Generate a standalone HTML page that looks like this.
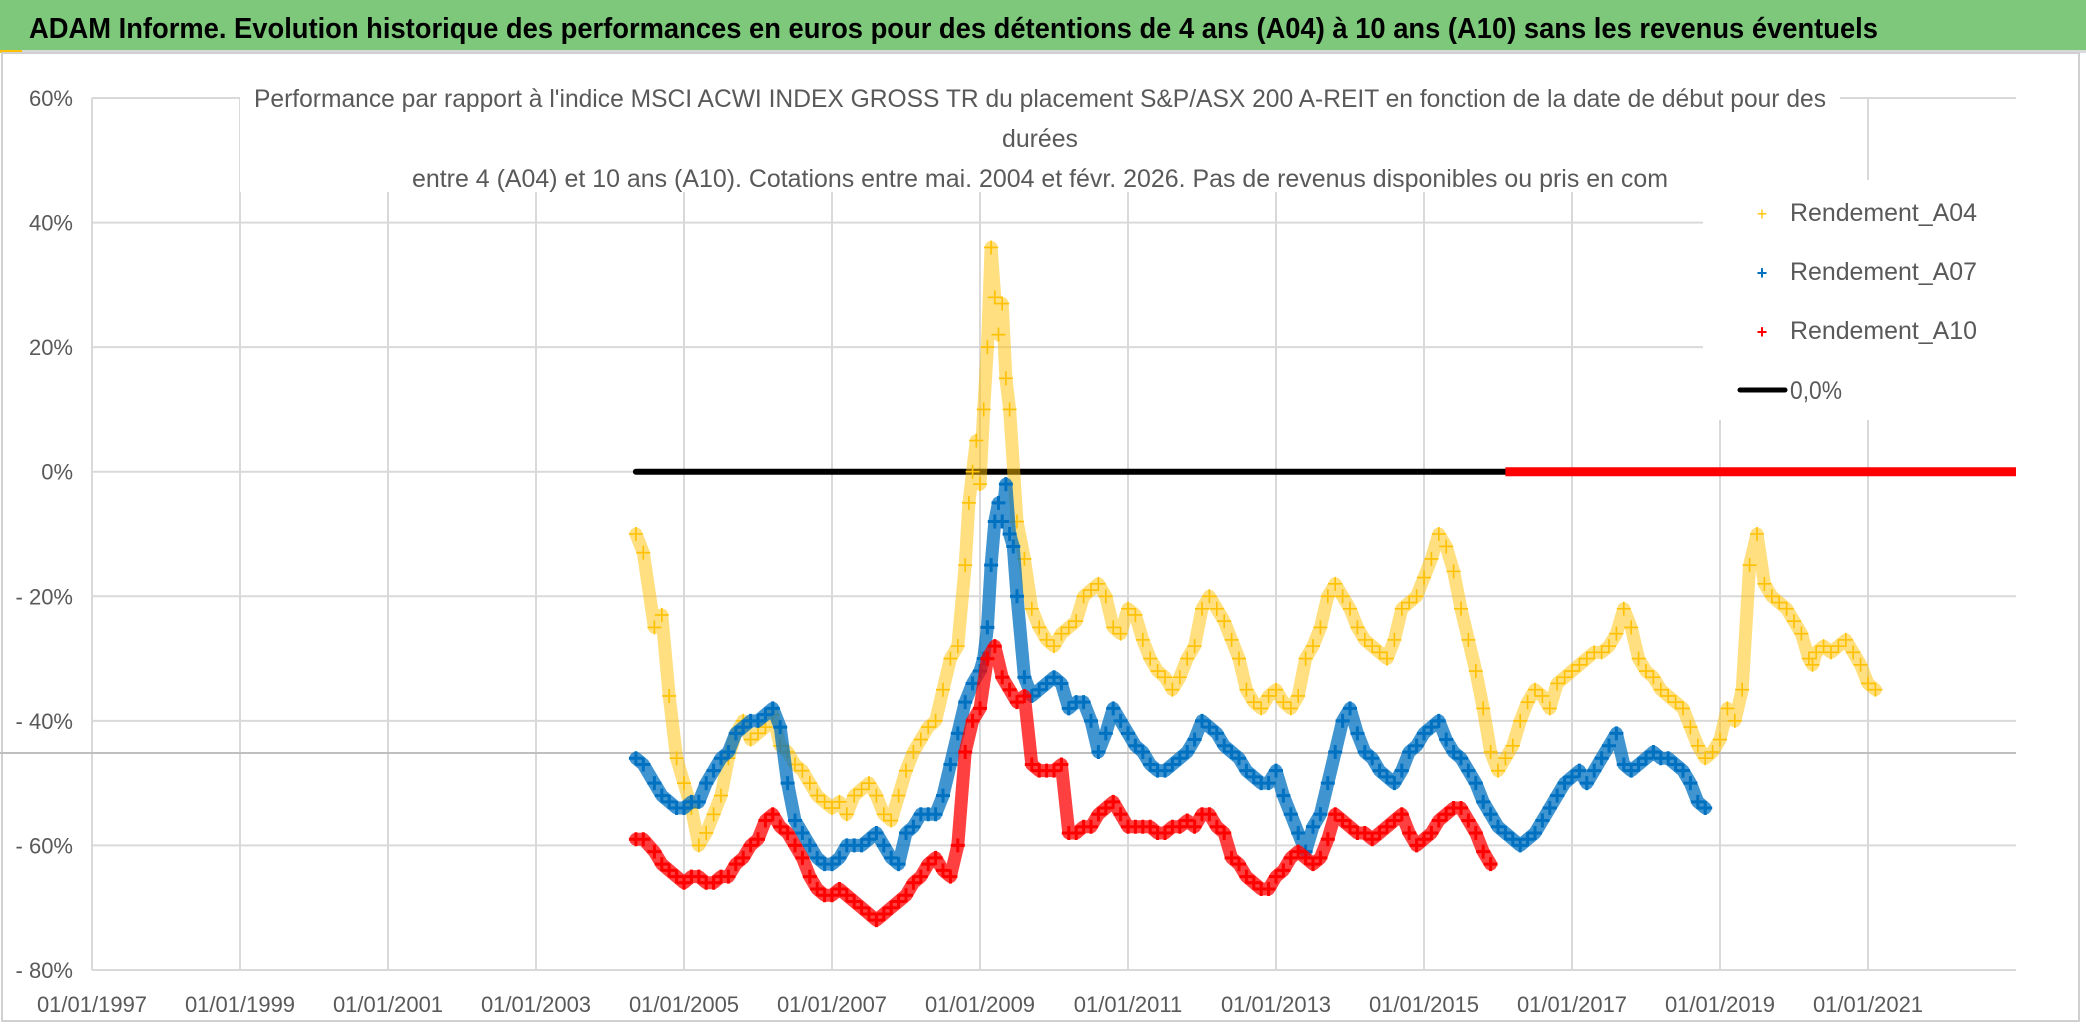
<!DOCTYPE html>
<html><head><meta charset="utf-8"><style>
html,body{margin:0;padding:0;background:#fff;}
svg{display:block;font-family:"Liberation Sans",sans-serif;}
</style></head><body>
<svg id="chart" width="2086" height="1031" viewBox="0 0 2086 1031">
<rect x="0" y="0" width="2086" height="1031" fill="#fff"/>
<rect x="0" y="0" width="2086" height="50" fill="#7dc87b"/>
<rect x="0" y="50" width="2086" height="3" fill="#d9d9d9"/>
<rect x="0" y="50" width="22" height="3" fill="#ffc000"/>
<text x="29" y="38" font-size="29" font-weight="bold" fill="#000" textLength="1849" lengthAdjust="spacingAndGlyphs">ADAM Informe. Evolution historique des performances en euros pour des détentions de 4 ans (A04) à 10 ans (A10) sans les revenus éventuels</text>
<rect x="2" y="53" width="2077" height="968" fill="none" stroke="#d0d0d0" stroke-width="2"/>
<g id="grid"></g>
<g id="yaxis"></g>
<g id="xaxis"></g>
<line x1="0" y1="753" x2="2016" y2="753" stroke="#bfbfbf" stroke-width="2"/>
<rect x="240" y="82" width="1600" height="110" fill="#fff"/>
<g fill="#595959" font-size="25" text-anchor="middle">
<text x="1040" y="107" textLength="1572" lengthAdjust="spacingAndGlyphs">Performance par rapport à l'indice MSCI ACWI INDEX GROSS TR  du placement S&amp;P/ASX 200 A-REIT en fonction de la date de début pour des</text>
<text x="1040" y="147" textLength="76" lengthAdjust="spacingAndGlyphs">durées</text>
<text x="1040" y="187" textLength="1256" lengthAdjust="spacingAndGlyphs">entre 4 (A04) et 10 ans (A10). Cotations entre mai. 2004 et févr. 2026. Pas de revenus disponibles ou pris en com</text>
</g>
<g id="series"></g>
<rect x="1703" y="180" width="313" height="240" fill="#fff"/>
<g font-size="25" fill="#595959">
<g><text x="1762" y="220" fill="#ffc000" font-size="18" text-anchor="middle">+</text><text x="1790" y="221" textLength="187" lengthAdjust="spacingAndGlyphs">Rendement_A04</text></g>
<g><text x="1762" y="279" fill="#0070c0" font-size="18" font-weight="bold" text-anchor="middle">+</text><text x="1790" y="280" textLength="187" lengthAdjust="spacingAndGlyphs">Rendement_A07</text></g>
<g><text x="1762" y="338" fill="#ff0000" font-size="18" font-weight="bold" text-anchor="middle">+</text><text x="1790" y="339" textLength="187" lengthAdjust="spacingAndGlyphs">Rendement_A10</text></g>
<g><line x1="1740" y1="390" x2="1785" y2="390" stroke="#000" stroke-width="5" stroke-linecap="round"/><text x="1790" y="399" textLength="52" lengthAdjust="spacingAndGlyphs">0,0%</text></g>
</g>
</svg>
<script>
const yTicks=[60,40,20,0,-20,-40,-60,-80];
const yTickLabels=["60%","40%","20%","0%","- 20%","- 40%","- 60%","- 80%"];
const xTicks=[1997,1999,2001,2003,2005,2007,2009,2011,2013,2015,2017,2019,2021];
const xTickLabels=["01/01/1997","01/01/1999","01/01/2001","01/01/2003","01/01/2005","01/01/2007","01/01/2009","01/01/2011","01/01/2013","01/01/2015","01/01/2017","01/01/2019","01/01/2021"];
const a04Dates=[2004.35,2004.45,2004.6,2004.7,2004.8,2004.9,2005.0,2005.1,2005.2,2005.3,2005.4,2005.5,2005.6,2005.7,2005.8,2005.9,2006.0,2006.1,2006.2,2006.3,2006.4,2006.5,2006.6,2006.7,2006.8,2006.9,2007.0,2007.1,2007.2,2007.3,2007.4,2007.5,2007.6,2007.7,2007.8,2007.9,2008.0,2008.1,2008.2,2008.3,2008.4,2008.5,2008.6,2008.7,2008.8,2008.85,2008.9,2008.95,2009.0,2009.05,2009.1,2009.15,2009.2,2009.25,2009.3,2009.35,2009.4,2009.5,2009.6,2009.7,2009.8,2009.9,2010.0,2010.1,2010.2,2010.3,2010.4,2010.5,2010.6,2010.7,2010.8,2010.9,2011.0,2011.1,2011.2,2011.3,2011.4,2011.5,2011.6,2011.7,2011.8,2011.9,2012.0,2012.1,2012.2,2012.3,2012.4,2012.5,2012.6,2012.7,2012.8,2012.9,2013.0,2013.1,2013.2,2013.3,2013.4,2013.5,2013.6,2013.7,2013.8,2013.9,2014.0,2014.1,2014.2,2014.3,2014.4,2014.5,2014.6,2014.7,2014.8,2014.9,2015.0,2015.1,2015.2,2015.3,2015.4,2015.5,2015.6,2015.7,2015.8,2015.9,2016.0,2016.1,2016.2,2016.3,2016.4,2016.5,2016.6,2016.7,2016.8,2016.9,2017.0,2017.1,2017.2,2017.3,2017.4,2017.5,2017.6,2017.7,2017.8,2017.9,2018.0,2018.1,2018.2,2018.3,2018.4,2018.5,2018.6,2018.7,2018.8,2018.9,2019.0,2019.1,2019.2,2019.3,2019.4,2019.5,2019.6,2019.7,2019.8,2019.9,2020.0,2020.1,2020.2,2020.25,2020.3,2020.4,2020.5,2020.6,2020.7,2020.8,2020.9,2021.0,2021.1,2021.2,2021.3,2021.4,2021.5,2021.6,2021.7,2021.8,2021.9,2022.0,2022.1];
const a04Values=[-10,-13,-25,-23,-36,-46,-50,-54,-60,-58,-55,-52,-46,-42,-40,-43,-42,-41,-39,-44,-45,-47,-48,-50,-52,-53,-54,-53,-55,-52,-51,-50,-52,-55,-56,-52,-48,-45,-43,-41,-40,-35,-30,-28,-15,-5,0,5,-2,10,20,36,28,22,27,15,10,-8,-14,-22,-25,-27,-28,-26,-25,-24,-20,-19,-18,-20,-25,-26,-22,-23,-27,-30,-32,-33,-35,-33,-30,-28,-22,-20,-22,-24,-27,-30,-35,-37,-38,-36,-35,-37,-38,-36,-30,-28,-25,-20,-18,-20,-22,-25,-27,-28,-29,-30,-27,-22,-21,-20,-17,-14,-10,-12,-16,-22,-27,-32,-38,-45,-48,-46,-44,-40,-37,-35,-36,-38,-34,-33,-32,-31,-30,-29,-29,-28,-26,-22,-25,-30,-32,-33,-35,-36,-37,-38,-41,-44,-46,-45,-43,-38,-40,-35,-15,-10,-18,-20,-21,-22,-24,-26,-30,-31,-29,-28,-29,-28,-27,-29,-31,-34,-35];
const a07Dates=[2004.35,2004.45,2004.6,2004.7,2004.8,2004.9,2005.0,2005.1,2005.2,2005.3,2005.4,2005.5,2005.6,2005.7,2005.8,2005.9,2006.0,2006.1,2006.2,2006.3,2006.4,2006.5,2006.6,2006.7,2006.8,2006.9,2007.0,2007.1,2007.2,2007.3,2007.4,2007.5,2007.6,2007.7,2007.8,2007.9,2008.0,2008.1,2008.2,2008.3,2008.4,2008.5,2008.6,2008.7,2008.8,2008.9,2009.0,2009.05,2009.1,2009.15,2009.2,2009.25,2009.3,2009.35,2009.4,2009.45,2009.5,2009.6,2009.7,2009.8,2009.9,2010.0,2010.1,2010.2,2010.3,2010.4,2010.5,2010.6,2010.7,2010.8,2010.9,2011.0,2011.1,2011.2,2011.3,2011.4,2011.5,2011.6,2011.7,2011.8,2011.9,2012.0,2012.1,2012.2,2012.3,2012.4,2012.5,2012.6,2012.7,2012.8,2012.9,2013.0,2013.1,2013.2,2013.3,2013.4,2013.5,2013.6,2013.7,2013.8,2013.9,2014.0,2014.1,2014.2,2014.3,2014.4,2014.5,2014.6,2014.7,2014.8,2014.9,2015.0,2015.1,2015.2,2015.3,2015.4,2015.5,2015.6,2015.7,2015.8,2015.9,2016.0,2016.1,2016.2,2016.3,2016.4,2016.5,2016.6,2016.7,2016.8,2016.9,2017.0,2017.1,2017.2,2017.3,2017.4,2017.5,2017.6,2017.7,2017.8,2017.9,2018.0,2018.1,2018.2,2018.3,2018.4,2018.5,2018.6,2018.7,2018.8,2018.9,2019.0,2019.1];
const a07Values=[-46,-47,-50,-52,-53,-54,-54,-53,-53,-50,-48,-46,-45,-42,-41,-40,-40,-39,-38,-41,-50,-56,-58,-60,-62,-63,-63,-62,-60,-60,-60,-59,-58,-60,-62,-63,-58,-57,-55,-55,-55,-52,-47,-42,-37,-34,-32,-30,-25,-15,-8,-5,-8,-2,-10,-12,-20,-33,-36,-35,-34,-33,-34,-38,-37,-37,-40,-45,-42,-38,-40,-42,-44,-45,-47,-48,-48,-47,-46,-45,-43,-40,-41,-42,-44,-45,-46,-48,-49,-50,-50,-48,-52,-55,-58,-61,-57,-55,-50,-45,-40,-38,-42,-45,-46,-48,-49,-50,-48,-45,-44,-42,-41,-40,-43,-45,-46,-48,-50,-53,-55,-57,-58,-59,-60,-59,-58,-56,-54,-52,-50,-49,-48,-50,-48,-46,-44,-42,-47,-48,-47,-46,-45,-46,-46,-47,-48,-50,-53,-54];
const a10Dates=[2004.35,2004.45,2004.6,2004.7,2004.8,2004.9,2005.0,2005.1,2005.2,2005.3,2005.4,2005.5,2005.6,2005.7,2005.8,2005.9,2006.0,2006.1,2006.2,2006.3,2006.4,2006.5,2006.6,2006.7,2006.8,2006.9,2007.0,2007.1,2007.2,2007.3,2007.4,2007.5,2007.6,2007.7,2007.8,2007.9,2008.0,2008.1,2008.2,2008.3,2008.4,2008.5,2008.6,2008.7,2008.8,2008.9,2009.0,2009.1,2009.2,2009.3,2009.4,2009.5,2009.6,2009.7,2009.8,2009.9,2010.0,2010.1,2010.2,2010.3,2010.4,2010.5,2010.6,2010.7,2010.8,2010.9,2011.0,2011.1,2011.2,2011.3,2011.4,2011.5,2011.6,2011.7,2011.8,2011.9,2012.0,2012.1,2012.2,2012.3,2012.4,2012.5,2012.6,2012.7,2012.8,2012.9,2013.0,2013.1,2013.2,2013.3,2013.4,2013.5,2013.6,2013.7,2013.8,2013.9,2014.0,2014.1,2014.2,2014.3,2014.4,2014.5,2014.6,2014.7,2014.8,2014.9,2015.0,2015.1,2015.2,2015.3,2015.4,2015.5,2015.6,2015.7,2015.8,2015.9,2016.0,2016.1];
const a10Values=[-59,-59,-61,-63,-64,-65,-66,-65,-65,-66,-66,-65,-65,-63,-62,-60,-59,-56,-55,-57,-58,-60,-62,-65,-67,-68,-68,-67,-68,-69,-70,-71,-72,-71,-70,-69,-68,-66,-65,-63,-62,-64,-65,-60,-45,-40,-38,-30,-28,-33,-35,-37,-36,-47,-48,-48,-48,-47,-58,-58,-57,-57,-55,-54,-53,-55,-57,-57,-57,-57,-58,-58,-57,-57,-56,-57,-55,-55,-57,-58,-62,-63,-65,-66,-67,-67,-65,-64,-62,-61,-62,-63,-62,-59,-55,-56,-57,-58,-58,-59,-58,-57,-56,-55,-58,-60,-59,-58,-56,-55,-54,-54,-56,-58,-61,-63];
const zeroBlackStart=2004.35, zeroBlackEnd=2016.1, zeroRedEnd=2023.0;

const NS="http://www.w3.org/2000/svg";
const X0=92, X1=2016, Y0=98, Y1=970, XMIN=1997, XMAX=2023, YMAX=60, YMIN=-80;
function xs(t){return X0+(t-XMIN)/(XMAX-XMIN)*(X1-X0);}
function ys(v){return Y0+(YMAX-v)/(YMAX-YMIN)*(Y1-Y0);}
function mk(tag,attrs,parent){const e=document.createElementNS(NS,tag);for(const k in attrs)e.setAttribute(k,attrs[k]);parent.appendChild(e);return e;}
const grid=document.getElementById('grid'),ya=document.getElementById('yaxis'),xa=document.getElementById('xaxis');
yTicks.forEach((v,i)=>{
  const l=mk('line',{x1:X0,x2:X1,y1:ys(v),y2:ys(v),stroke:'#d9d9d9','stroke-width':2},grid);
  
  
  const t=mk('text',{x:73,y:ys(v)+8,'text-anchor':'end','font-size':22,fill:'#595959'},ya);
  t.textContent=yTickLabels[i];
  
  
});
xTicks.forEach((v,i)=>{
  const l=mk('line',{x1:xs(v),x2:xs(v),y1:Y0,y2:Y1,stroke:'#d9d9d9','stroke-width':2},grid);
  
  
  const t=mk('text',{x:xs(v),y:1012,'text-anchor':'middle','font-size':22,fill:'#595959'},xa);
  t.textContent=xTickLabels[i];
  
  
});
const ser=document.getElementById('series');
const z1=mk('line',{x1:xs(zeroBlackStart),x2:xs(zeroBlackEnd),y1:ys(0),y2:ys(0),stroke:'#000','stroke-width':6,'stroke-linecap':'round'},ser);


function series(dates,vals,color,sw,op,name){
  const g=mk('g',{},ser);
  
  
  let pts=dates.map((d,i)=>xs(d)+','+ys(vals[i])).join(' ');
  mk('polyline',{points:pts,fill:'none',stroke:color,'stroke-width':13,'stroke-opacity':op,'stroke-linejoin':'round','stroke-linecap':'round'},g);
  let d='';
  dates.forEach((t,i)=>{const x=xs(t),y=ys(vals[i]);d+=`M${x-7},${y}h14M${x},${y-7}v14`;});
  mk('path',{d:d,stroke:color,'stroke-width':sw,fill:'none'},g);
}
series(a04Dates,a04Values,'#ffc000',1.6,0.5,'series-a04');
series(a07Dates,a07Values,'#0070c0',3,0.75,'series-a07');
series(a10Dates,a10Values,'#ff0000',3,0.75,'series-a10');
const z2=mk('line',{x1:xs(zeroBlackEnd),x2:xs(zeroRedEnd),y1:ys(0),y2:ys(0),stroke:'#ff0000','stroke-width':9},ser);


</script>
</body></html>
